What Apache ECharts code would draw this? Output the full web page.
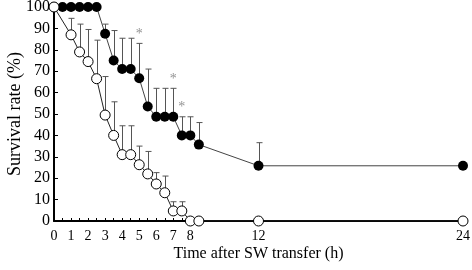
<!DOCTYPE html>
<html><head><meta charset="utf-8">
<script src="https://cdn.jsdelivr.net/npm/echarts@6/dist/echarts.min.js"></script>
<style>html,body{margin:0;padding:0;background:#fff}#c{width:472px;height:270px}</style>
</head><body><div id="c"></div>
<script>
// Data
var timesOpen = [0,1,1.5,2,2.5,3,3.5,4,4.5,5,5.5,6,6.5,7,7.5,8,8.5,12,24];
var openVals  = [100,87,79,74.5,66.5,49.5,40,31,31,26.3,22,17.3,13.2,4.7,4.7,0,0,0,0];
var openErr   = [null,94.7,92,89.5,84.5,67.5,55.7,44.5,44.5,35,32.5,22.6,21,9,9,null,null,null,null];

var timesFilled = [0,0.5,1,1.5,2,2.5,3,3.5,4,4.5,5,5.5,6,6.5,7,7.5,8,8.5,12,24];
var filledVals  = [100,100,100,100,100,100,87.5,75,71,71,66.7,53.5,48.7,48.7,48.7,40,40,35.7,25.8,25.8];
var filledErr   = [null,null,null,null,null,null,92,89,85.4,85.4,83,71,62,62,62,48.7,48.7,46,36.6,null];

var starTimes = [5,7,7.5];
var starVals  = [87,66.4,53.3];

var xLabelValues = [0,1,2,3,4,5,6,7,8,12,24];
var xTickValues = [0,0.5,1,1.5,2,2.5,3,3.5,4,4.5,5,5.5,6,6.5,7,7.5,8,8.5];

var FONT = 'Liberation Serif';

function pairs(xs, ys){ return xs.map(function(x,i){ return [x, ys[i]]; }); }
function errData(xs, ys, es){
  var out = [];
  xs.forEach(function(x,i){ if(es[i]!=null) out.push([x, ys[i], es[i]]); });
  return out;
}
var errAll = errData(timesOpen, openVals, openErr).concat(errData(timesFilled, filledVals, filledErr));

var chart = echarts.init(document.getElementById('c'), null, {renderer:'canvas'});
chart.setOption({
  animation:false,
  grid:{left:54, right:9, top:7, bottom:49, containLabel:false, outerBoundsMode:'none'},
  xAxis:{
    type:'value', min:0, max:24,
    name:'Time after SW transfer (h)', nameLocation:'middle', nameGap:25, nameMoveOverlap:false,
    nameTextStyle:{fontFamily:FONT, fontSize:16, color:'#000'},
    axisLine:{lineStyle:{color:'#000', width:2}},
    axisTick:{inside:true, length:3, customValues:xTickValues, lineStyle:{color:'#000', width:1}},
    axisLabel:{customValues:xLabelValues, fontFamily:FONT, fontSize:14, color:'#000', margin:8},
    splitLine:{show:false}
  },
  yAxis:{
    type:'value', min:0, max:100, interval:10,
    name:'Survival rate (%)', nameLocation:'middle', nameGap:30, nameRotate:90, nameMoveOverlap:false,
    nameTextStyle:{fontFamily:FONT, fontSize:18, color:'#000'},
    axisLine:{show:true, lineStyle:{color:'#000', width:2}},
    axisTick:{show:true, inside:true, length:4, lineStyle:{color:'#000', width:1}},
    axisLabel:{fontFamily:FONT, fontSize:16, color:'#000', margin:4},
    splitLine:{show:false}
  },
  series:[
    {
      type:'custom', data:errAll, z:1,
      renderItem:function(params, api){
        var p0 = api.coord([api.value(0), api.value(1)]);
        var p1 = api.coord([api.value(0), api.value(2)]);
        var x = Math.round(p0[0]) + 0.5;
        return {type:'group', children:[
          {type:'line', shape:{x1:x, y1:p0[1], x2:x, y2:p1[1]}, style:{stroke:'#555', lineWidth:1}},
          {type:'line', shape:{x1:x-3, y1:p1[1], x2:x+3, y2:p1[1]}, style:{stroke:'#555', lineWidth:1}}
        ]};
      }
    },
    {
      type:'line', data:pairs(timesFilled, filledVals), z:2,
      symbol:'circle', symbolSize:10,
      itemStyle:{color:'#000'},
      lineStyle:{color:'#444', width:1}
    },
    {
      type:'line', data:pairs(timesOpen, openVals), z:3,
      symbol:'circle', symbolSize:10,
      itemStyle:{color:'#fff', borderColor:'#000', borderWidth:1},
      lineStyle:{color:'#222', width:1}
    },
    {
      type:'scatter', data:pairs(starTimes, starVals), z:4,
      symbolSize:1, itemStyle:{color:'rgba(0,0,0,0)'},
      label:{show:true, position:'inside', formatter:'*', fontFamily:FONT, fontSize:14, color:'#777'}
    }
  ]
});
</script>
</body></html>
